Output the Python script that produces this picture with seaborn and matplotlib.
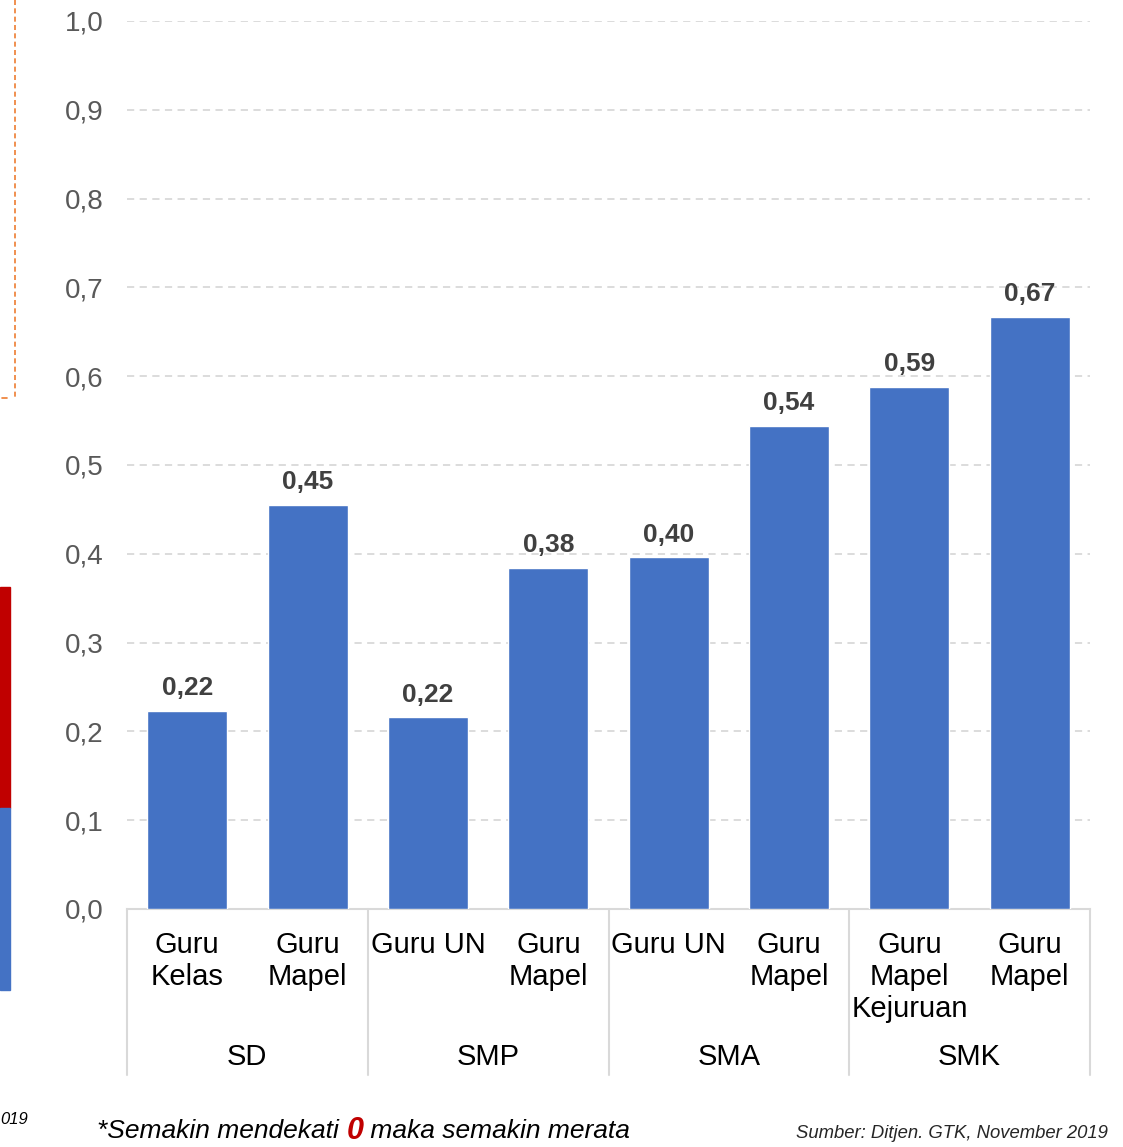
import matplotlib
matplotlib.use("Agg")
import matplotlib.pyplot as plt
import matplotlib.patches as mpatches
from matplotlib.transforms import blended_transform_factory
import seaborn as sns
import pandas as pd

# ---- data ----
categories = ["Guru\nKelas", "Guru\nMapel", "Guru UN", "Guru\nMapel",
              "Guru UN", "Guru\nMapel", "Guru\nMapel\nKejuruan", "Guru\nMapel"]
groups = ["SD", "SMP", "SMA", "SMK"]
values = [0.223, 0.4549, 0.216, 0.384, 0.396, 0.544, 0.588, 0.667]
ytick_values = [0.0, 0.1, 0.2, 0.3, 0.4, 0.5, 0.6, 0.7, 0.8, 0.9, 1.0]
footnote_parts = ["*Semakin mendekati ", "0", " maka semakin merata"]
source_text = "Sumber: Ditjen. GTK, November 2019"

sns.set_style("white")
plt.rcParams["font.family"] = ["Liberation Sans", "DejaVu Sans"]

BAR = "#4472C4"
fig = plt.figure(figsize=(11.23, 11.47), dpi=100)
ax = fig.add_axes([127 / 1123, 238 / 1147, 963 / 1123, 888 / 1147])

df = pd.DataFrame({"idx": [str(i) for i in range(len(values))], "val": values})
sns.barplot(data=df, x="idx", y="val", color=BAR, width=0.665, saturation=1,
            ax=ax, zorder=3)

ax.set_xlim(-0.5, len(values) - 0.5)
ax.set_ylim(0, 1.0)
ax.set_yticks(ytick_values)
ax.set_yticklabels([f"{v:.1f}".replace(".", ",") for v in ytick_values],
                   fontsize=20, color="#595959")
ax.tick_params(axis="y", length=0, pad=17)
ax.set_xlabel("")
ax.set_ylabel("")
for s in ["top", "right", "left"]:
    ax.spines[s].set_visible(False)
ax.spines["bottom"].set_color("#d9d9d9")
ax.spines["bottom"].set_linewidth(1.5)

for v in ytick_values[1:]:
    ax.axhline(v, color="#d9d9d9", lw=1.3, ls=(0, (4, 3)), zorder=1)

ax.set_xticks(range(len(values)))
ax.set_xticklabels(categories, fontsize=21, color="black", linespacing=1.17,
                   va="top")
ax.tick_params(axis="x", length=0, pad=16)

# value labels
for i, v in enumerate(values):
    ax.text(i, v + 0.012, f"{v:.2f}".replace(".", ","), ha="center", va="bottom",
            fontsize=19, fontweight="bold", color="#404040", zorder=4)

# group separators and labels
tr = blended_transform_factory(ax.transData, ax.transAxes)
for xs in [-0.5, 1.5, 3.5, 5.5, 7.5]:
    ax.plot([xs, xs], [0, -0.187], transform=tr, color="#d9d9d9", lw=1.5,
            clip_on=False)
for g, name in enumerate(groups):
    ax.text(2 * g + 0.5, -0.1667, name, transform=tr, ha="center", va="center",
            fontsize=21, color="black")

# footnote with red 0
fig.canvas.draw()
r = fig.canvas.get_renderer()
x0 = 97 / 1123
yft = 1 - 1131 / 1147
t1 = fig.text(x0, yft, footnote_parts[0], fontsize=19, style="italic",
              color="black", va="center")
bb = t1.get_window_extent(r)
t2 = fig.text(bb.x1 / fig.bbox.width, yft, footnote_parts[1], fontsize=22,
              style="italic", fontweight="bold", color="#C00000", va="center")
bb2 = t2.get_window_extent(r)
fig.text(bb2.x1 / fig.bbox.width, yft, footnote_parts[2], fontsize=19,
         style="italic", color="black", va="center")

fig.text(1108 / 1123, 1 - 1133 / 1147, source_text, fontsize=13.3, style="italic",
         color="#262626", ha="right", va="center")

# cropped slide fragments at left edge
H = 1147
fig.add_artist(mpatches.Rectangle((0, 1 - 808 / H), 10 / 1123, 221 / H,
                                  transform=fig.transFigure, color="#C00000"))
fig.add_artist(mpatches.Rectangle((0, 1 - 990 / H), 10 / 1123, 182 / H,
                                  transform=fig.transFigure, color=BAR))
fig.add_artist(plt.Line2D([15 / 1123, 15 / 1123], [1, 1 - 400 / H],
                          transform=fig.transFigure, color="#ED7D31", lw=1.2,
                          ls=(0, (3, 2))))
fig.add_artist(plt.Line2D([2 / 1123, 7 / 1123], [1 - 398 / H, 1 - 398 / H],
                          transform=fig.transFigure, color="#ED7D31", lw=1.2))
fig.text(0, 1 - 1120 / H, "019", fontsize=12, style="italic",
         color="black", va="center")

fig.savefig("out.png", dpi=100)
